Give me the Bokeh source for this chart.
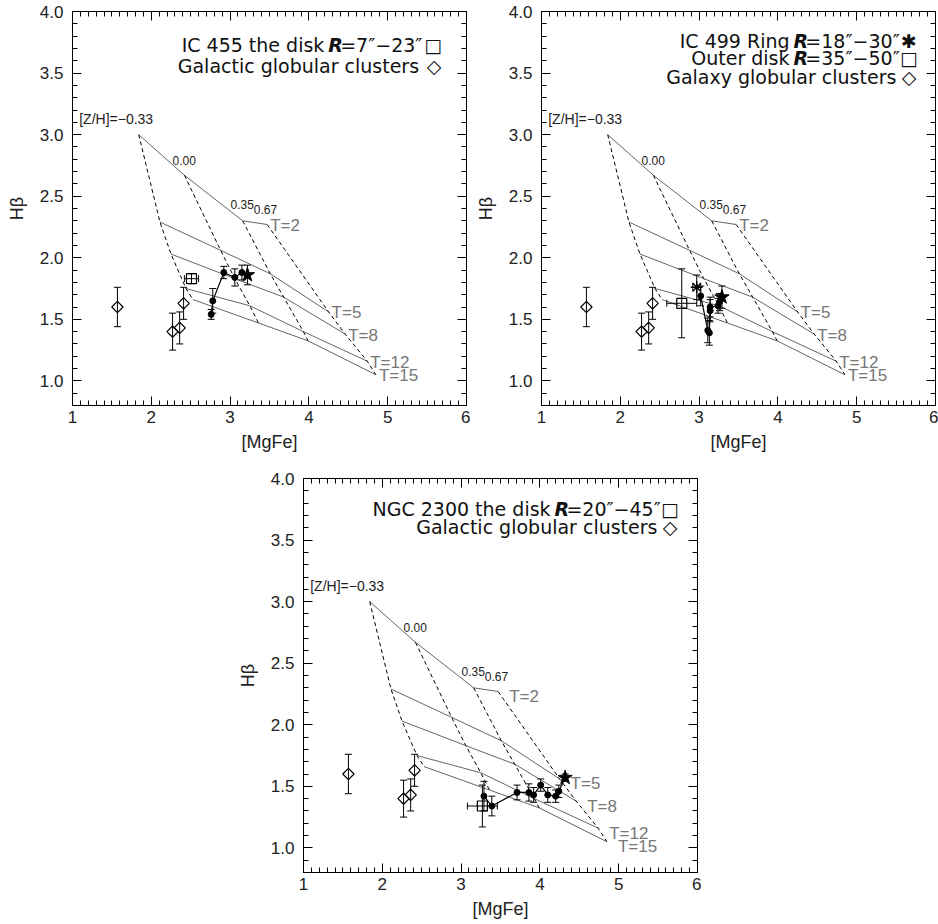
from bokeh.plotting import figure
from bokeh.layouts import column, row
from bokeh.models import (ColumnDataSource, Whisker, TeeHead, LinearAxis, SingleIntervalTicker,
                          PrintfTickFormatter, Range1d, Label, Spacer, CustomLabelingPolicy)
from bokeh.embed import file_html
from bokeh.resources import INLINE
from bokeh.core.properties import value

# ---------------- model grid (Hbeta vs [MgFe]) ----------------
age_labels = ["T=2", "T=5", "T=8", "T=12", "T=15"]
metal_labels = ["[Z/H]=\u22120.33", "0.00", "0.35", "0.67"]
metal_label_sizes = ["14px", "12px", "12px", "12px"]
# vertices along each metallicity track, ages 2,5,8,12,15 Gyr
mgfe_m033 = [1.84, 2.11, 2.25, 2.44, 2.53]
hb_m033 = [3.00, 2.29, 2.03, 1.75, 1.66]
mgfe_p000 = [2.42, 2.88, 3.06, 3.25, 3.36]
hb_p000 = [2.67, 2.06, 1.83, 1.61, 1.47]
mgfe_p035 = [3.16, 3.51, 3.68, 3.93, 3.99]
hb_p035 = [2.30, 1.87, 1.68, 1.40, 1.325]
mgfe_p067 = [3.47, 4.25, 4.46, 4.74, 4.85]
hb_p067 = [2.27, 1.56, 1.38, 1.16, 1.05]
# metallicity label anchors (left edge, middle)
metal_lab_x = [1.085, 2.27, 3.005, 3.30]
metal_lab_y = [3.13, 2.79, 2.43, 2.395]

# ---------------- Galactic globular clusters ----------------
gc_mgfe = [1.57, 2.27, 2.36, 2.41]
gc_hb = [1.60, 1.40, 1.43, 1.63]
gc_err = [0.16, 0.15, 0.13, 0.13]

# ---------------- IC 455 ----------------
ic455_mgfe = [2.76, 2.78, 2.92, 3.06, 3.15]
ic455_hb = [1.54, 1.65, 1.88, 1.84, 1.88]
ic455_err = [0.04, 0.10, 0.05, 0.07, 0.06]
ic455_star = [3.22, 1.86, 0.08]
ic455_disk = [2.51, 1.83, 0.09, 0.04]   # mgfe, hb, mgfe err, hb err

# ---------------- IC 499 ----------------
ic499_mgfe = [3.02, 3.11, 3.13, 3.14, 3.14, 3.24, 3.26]
ic499_hb = [1.69, 1.41, 1.39, 1.57, 1.60, 1.61, 1.64]
ic499_err = [0.08, 0.10, 0.10, 0.09, 0.08, 0.06, 0.07]
ic499_star = [3.29, 1.68, 0.09]
ic499_ring = [2.97, 1.76, 0.05, 0.10]
ic499_disk = [2.78, 1.63, 0.19, 0.28]

# ---------------- NGC 2300 ----------------
n2300_mgfe = [3.29, 3.39, 3.71, 3.86, 3.92, 4.01, 4.10, 4.20, 4.24]
n2300_hb = [1.42, 1.34, 1.45, 1.45, 1.43, 1.51, 1.43, 1.42, 1.46]
n2300_err = [0.12, 0.08, 0.06, 0.07, 0.06, 0.05, 0.06, 0.05, 0.05]
n2300_star = [4.32, 1.57, 0.03]
n2300_disk = [3.27, 1.34, 0.19, 0.17]

TICK_FONT = "Liberation Sans"
LEG_FONT = "DejaVu Sans"
LEG_SIZE = 19
PX_PER_UNIT = 78.8   # frame width 394 px over 5 units of [MgFe]

# approximate DejaVu Sans advance widths (em)
CHAR_EM = {"=": 0.838, "\u2212": 0.838, "\u2033": 0.30}


def text_units(s):
    w = sum(CHAR_EM.get(c, 0.636) for c in s) * LEG_SIZE
    return w / PX_PER_UNIT


R_UNITS = 0.77 * LEG_SIZE / PX_PER_UNIT
GAP_UNITS = 4 / PX_PER_UNIT


def add_yerr(p, x, y, e, cap=7):
    src = ColumnDataSource(dict(x=list(x), lo=[a - b for a, b in zip(y, e)],
                                hi=[a + b for a, b in zip(y, e)]))
    p.add_layout(Whisker(source=src, base="x", lower="lo", upper="hi", dimension="height",
                         line_color="black", line_width=1, level="glyph",
                         upper_head=TeeHead(size=cap, line_color="black", line_width=1),
                         lower_head=TeeHead(size=cap, line_color="black", line_width=1)))


def add_xerr(p, x, y, e, cap=7):
    src = ColumnDataSource(dict(y=list(y), lo=[a - b for a, b in zip(x, e)],
                                hi=[a + b for a, b in zip(x, e)]))
    p.add_layout(Whisker(source=src, base="y", lower="lo", upper="hi", dimension="width",
                         line_color="black", line_width=1, level="glyph",
                         upper_head=TeeHead(size=cap, line_color="black", line_width=1),
                         lower_head=TeeHead(size=cap, line_color="black", line_width=1)))


def style_axis(ax, show_labels):
    ax.major_tick_in = 9
    ax.major_tick_out = 0
    ax.minor_tick_in = 5
    ax.minor_tick_out = 0
    ax.axis_line_color = "black"
    ax.major_tick_line_color = "black"
    ax.minor_tick_line_color = "black"
    if show_labels:
        ax.major_label_text_font = TICK_FONT
        ax.major_label_text_font_size = "17px"
        ax.major_label_text_color = "#222222"
        ax.axis_label_text_font = TICK_FONT
        ax.axis_label_text_font_size = "18px"
        ax.axis_label_text_font_style = "normal"
        ax.axis_label_text_color = "#222222"
    else:
        ax.major_label_text_font_size = "0px"
        ax.major_label_standoff = 0
        ax.major_label_policy = CustomLabelingPolicy(
            code="try { return new indices.constructor(indices.size, 0) } catch (e) { return indices }")


def make_panel(bl, br, bt, bb, lab_dx, lab_dy):
    p = figure(frame_width=394, frame_height=394, x_range=Range1d(1, 6), y_range=Range1d(0.8, 4.0),
               output_backend="svg", toolbar_location=None,
               min_border_left=bl, min_border_right=br, min_border_top=bt, min_border_bottom=bb,
               x_axis_label="[MgFe]", y_axis_label="H\u03b2")
    p.grid.visible = False
    p.outline_line_color = "black"
    p.outline_line_width = 1
    p.background_fill_color = "white"
    p.border_fill_color = "white"

    p.xaxis.ticker = SingleIntervalTicker(interval=1, num_minor_ticks=10)
    p.yaxis.ticker = SingleIntervalTicker(interval=0.5, num_minor_ticks=5)
    p.xaxis.formatter = PrintfTickFormatter(format="%d")
    p.yaxis.formatter = PrintfTickFormatter(format="%.1f")
    style_axis(p.xaxis[0], True)
    style_axis(p.yaxis[0], True)
    p.xaxis.major_label_standoff = 5
    p.yaxis.major_label_standoff = 9
    p.xaxis.axis_label_standoff = 6
    p.yaxis.axis_label_standoff = 10
    top = LinearAxis(ticker=SingleIntervalTicker(interval=1, num_minor_ticks=10))
    right = LinearAxis(ticker=SingleIntervalTicker(interval=0.5, num_minor_ticks=5))
    style_axis(top, False)
    style_axis(right, False)
    p.add_layout(top, "above")
    p.add_layout(right, "right")

    # grid: constant-age lines (solid gray)
    for i in range(5):
        xs = [mgfe_m033[i], mgfe_p000[i], mgfe_p035[i], mgfe_p067[i]]
        ys = [hb_m033[i], hb_p000[i], hb_p035[i], hb_p067[i]]
        p.line(xs, ys, line_color="#666666", line_width=1)
    # constant-metallicity lines (dashed black)
    for xs, ys in [(mgfe_m033, hb_m033), (mgfe_p000, hb_p000), (mgfe_p035, hb_p035), (mgfe_p067, hb_p067)]:
        p.line(xs, ys, line_color="black", line_width=1, line_dash="4 3")
    p.text(x=mgfe_p067, y=hb_p067, text=age_labels, text_font=value(TICK_FONT),
           text_font_size="17px", text_color="#777777", text_align="left",
           text_baseline="middle", x_offset=lab_dx, y_offset=lab_dy)
    msrc = ColumnDataSource(dict(x=metal_lab_x, y=metal_lab_y, t=metal_labels, fs=metal_label_sizes))
    p.text(x="x", y="y", text="t", text_font_size="fs", source=msrc, text_font=value(TICK_FONT),
           text_color="#222222", text_align="left", text_baseline="middle")

    # globular clusters
    add_yerr(p, gc_mgfe, gc_hb, gc_err)
    p.scatter(gc_mgfe, gc_hb, marker="square", angle=45, angle_units="deg", size=8,
              fill_alpha=0, line_color="black", line_width=1.2)
    return p


def leg_label(p, txt, x, y, style="normal", align="right"):
    p.add_layout(Label(x=x, y=y, text=txt, text_font=LEG_FONT, text_font_size=f"{LEG_SIZE}px",
                       text_font_style=style, text_color="#111111", text_align=align,
                       text_baseline="middle"))


def legend_line_R(p, prefix, suffix, symbol, x_end, x_sym, y):
    # "<prefix> R<suffix> <symbol>", right end of suffix at x_end
    r_right = x_end - text_units(suffix)
    leg_label(p, suffix, x_end, y)
    leg_label(p, "R", r_right, y, style="bold italic")
    leg_label(p, prefix, r_right - R_UNITS - GAP_UNITS, y)
    leg_label(p, symbol, x_sym, y, align="center")


def legend_line(p, txt, symbol, x_end, x_sym, y):
    leg_label(p, txt, x_end, y)
    leg_label(p, symbol, x_sym, y, align="center")


def galaxy(p, gx, gy, ge, star, boxes, asterisk=None):
    p.line(gx + [star[0]], gy + [star[1]], line_color="black", line_width=1.2)
    add_yerr(p, gx, gy, ge)
    add_yerr(p, [star[0]], [star[1]], [star[2]])
    p.scatter(gx, gy, marker="circle", size=6, fill_color="black", line_color="black")
    p.scatter([star[0]], [star[1]], marker="star", size=15, fill_color="black", line_color="black")
    for b in boxes:
        add_xerr(p, [b[0]], [b[1]], [b[2]])
        add_yerr(p, [b[0]], [b[1]], [b[3]])
        p.scatter([b[0]], [b[1]], marker="square", size=10, fill_alpha=0, line_color="black",
                  line_width=1.2)
    if asterisk is not None:
        add_xerr(p, [asterisk[0]], [asterisk[1]], [asterisk[2]])
        add_yerr(p, [asterisk[0]], [asterisk[1]], [asterisk[3]])
        p.scatter([asterisk[0]], [asterisk[1]], marker="asterisk", size=12, line_color="black",
                  line_width=1.5)


SQ, DM, AST = "\u25a1", "\u25c7", "\u2731"

p1 = make_panel(72, 4, 11, 55, 3, 1)
legend_line_R(p1, "IC 455 the disk", "=7\u2033\u221223\u2033", SQ, 5.441, 5.579, 3.724)
legend_line(p1, "Galactic globular clusters", DM, 5.398, 5.589, 3.555)
galaxy(p1, ic455_mgfe, ic455_hb, ic455_err, ic455_star, [ic455_disk])

p2 = make_panel(71, 3, 11, 55, 3, 1)
legend_line_R(p2, "IC 499 Ring", "=18\u2033\u221230\u2033", AST, 5.546, 5.664, 3.759)
legend_line_R(p2, "Outer disk", "=35\u2033\u221250\u2033", SQ, 5.546, 5.664, 3.624)
legend_line(p2, "Galaxy globular clusters", DM, 5.503, 5.664, 3.472)
galaxy(p2, ic499_mgfe, ic499_hb, ic499_err, ic499_star, [ic499_disk], asterisk=ic499_ring)

p3 = make_panel(72, 4, 18, 52, 11, 5)
legend_line_R(p3, "NGC 2300 the disk", "=20\u2033\u221245\u2033", SQ, 5.534, 5.652, 3.749)
legend_line(p3, "Galactic globular clusters", DM, 5.492, 5.652, 3.608)
galaxy(p3, n2300_mgfe, n2300_hb, n2300_err, n2300_star, [n2300_disk])

layout = column(row(p1, p2), row(Spacer(width=231, height=464), p3))
open("out.html", "w").write(file_html(layout, INLINE))
